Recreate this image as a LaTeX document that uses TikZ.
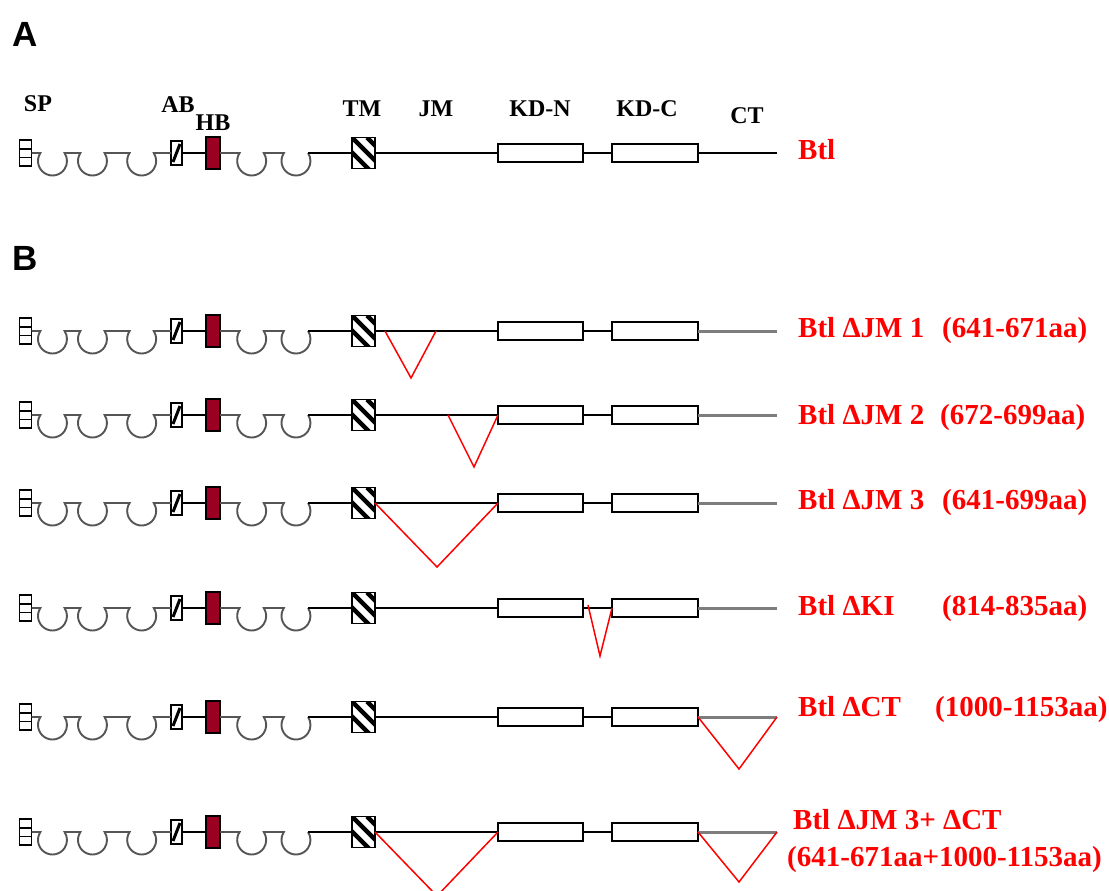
\documentclass[tikz,border=0pt]{standalone}
\usepackage{fontspec}
\setmainfont{Liberation Serif}
\newfontfamily\labsans{Liberation Sans}
\definecolor{hbred}{RGB}{155,0,35}
\definecolor{loopgray}{RGB}{85,85,85}
\definecolor{ctgray}{RGB}{125,125,125}
\tikzset{
  dom/.style={draw=black, line width=1.8pt, inner sep=0pt, outer sep=0pt, fill=white},
  spbox/.style={dom, minimum width=12pt, minimum height=26pt},
  abbox/.style={dom, minimum width=11pt, minimum height=24pt},
  hbbox/.style={dom, fill=hbred, minimum width=14pt, minimum height=32pt},
  tmbox/.style={dom, minimum width=23pt, minimum height=31pt},
  kdbox/.style={dom, minimum width=85pt, minimum height=18pt},
  bb/.style={line width=2pt, black},
  gl/.style={line width=1.9pt, loopgray},
  ctblack/.style={line width=2pt, black},
  ctgrey/.style={line width=3pt, ctgray},
  del/.style={red, line width=1.5pt, line join=miter},
  lab/.style={font=\fontsize{24}{28}\selectfont\bfseries, anchor=base, inner sep=0pt},
  rlab/.style={font=\fontsize{29}{34}\selectfont\bfseries, text=red, anchor=base west, inner sep=0pt},
  panel/.style={font=\labsans\fontsize{35}{40}\selectfont\bfseries, anchor=base west, inner sep=0pt},
}
\newcommand\protrow[3]{%
  \node[spbox] (#1sp) at (25.5,-#2) {};
  \draw[line width=1.6pt] ([yshift=4.3pt]#1sp.west) -- ([yshift=4.3pt]#1sp.east);
  \draw[line width=1.6pt] ([yshift=-4.3pt]#1sp.west) -- ([yshift=-4.3pt]#1sp.east);
  \node[abbox] (#1ab) at (176.5,-#2) {};
  \draw[line width=3pt] ([xshift=2pt,yshift=3pt]#1ab.south west) -- ([xshift=-2pt,yshift=-3pt]#1ab.north east);
  \node[hbbox] (#1hb) at (213,-#2) {};
  \node[tmbox] (#1tm) at (363.5,-#2) {};
  \begin{scope}
    \clip (#1tm.south west) rectangle (#1tm.north east);
    \foreach \o in {-15,0,15} \draw[line width=4.5pt] ([xshift=\o pt]#1tm.north west) -- ++(45,-45);
  \end{scope}
  \draw[line width=1.8pt] (#1tm.south west) rectangle (#1tm.north east);
  \node[kdbox] (#1kdn) at (540.5,-#2) {};
  \node[kdbox, minimum width=86pt] (#1kdc) at (655,-#2) {};
  \coordinate (#1end) at (777,-#2);
  % loops (Ig domains)
  \draw[gl] (#1sp.east) -- (40.4,-#2) arc[start angle=146.5, end angle=393.5, radius=14.5]
     -- (80.4,-#2) arc[start angle=146.5, end angle=393.5, radius=14.5]
     -- (129.6,-#2) arc[start angle=146.5, end angle=393.5, radius=14.5] -- (#1ab.west);
  \draw[gl] (#1hb.east) -- (239.6,-#2) arc[start angle=146.5, end angle=393.5, radius=14.5]
     -- (283.9,-#2) arc[start angle=146.5, end angle=393.5, radius=14.5] coordinate (#1l5);
  % connectors
  \draw[bb] (#1ab) -- (#1hb);
  \draw[bb] (#1l5) -- (#1tm);
  \draw[bb] (#1tm) -- (#1kdn);
  \draw[bb] (#1kdn) -- (#1kdc);
  \draw[#3] (#1kdc) -- (#1end);
}
\begin{document}
\begin{tikzpicture}[x=1pt,y=1pt]
\useasboundingbox (0,0) rectangle (1109,-891);
\fill[white] (0,0) rectangle (1109,-891);
% panel letters
\node[panel] (pA) at (12,-47) {A};
\node[panel] (pB) at (12,-270) {B};
% panel A
\protrow{a}{153}{ctblack}
\node[lab] (lsp) at (38,-111) {SP};
\node[lab] (lab) at (178,-112) {AB};
\node[lab] (lhb) at (213,-130) {HB};
\node[lab] (ltm) at (362,-117) {TM};
\node[lab] (ljm) at (436,-117) {JM};
\node[lab] (lkdn) at (540,-117) {KD-N};
\node[lab] (lkdc) at (647,-117) {KD-C};
\node[lab] (lct) at (747,-123) {CT};
\node[rlab] (tA) at (798,-159) {Btl};
% panel B rows
\protrow{b}{331}{ctgrey}
\protrow{c}{415}{ctgrey}
\protrow{d}{503}{ctgrey}
\protrow{e}{608}{ctgrey}
\protrow{f}{717}{ctgrey}
\protrow{g}{832}{ctgrey}
% deletions
\coordinate (b1) at (385,-331); \coordinate (b2) at (411,-378); \coordinate (b3) at (436,-331);
\draw[del] (b1) -- (b2) -- (b3);
\coordinate (c1) at (448,-415); \coordinate (c2) at (474,-467);
\draw[del] (c1) -- (c2) -- (ckdn.west);
\coordinate (d2) at (437,-567);
\draw[del] (dtm.east) -- (d2) -- (dkdn.west);
\coordinate (e1) at (588,-605); \coordinate (e2) at (600,-656);
\draw[del] (e1) -- (e2) -- (ekdc.west);
\coordinate (f2) at (739,-769);
\draw[del] (fkdc.east) -- (f2) -- (fend);
\coordinate (g2) at (437,-896);
\draw[del] (gtm.east) -- (g2) -- (gkdn.west);
\coordinate (g4) at (739,-882);
\draw[del] (gkdc.east) -- (g4) -- (gend);
% labels
\node[rlab] (tb1) at (798,-337) {Btl ΔJM 1};
\node[rlab] (tb2) at (942,-337) {(641-671aa)};
\node[rlab] (tc1) at (798,-424) {Btl ΔJM 2};
\node[rlab] (tc2) at (940,-424) {(672-699aa)};
\node[rlab] (td1) at (798,-509) {Btl ΔJM 3};
\node[rlab] (td2) at (942,-509) {(641-699aa)};
\node[rlab] (te1) at (798,-615) {Btl ΔKI};
\node[rlab] (te2) at (942,-615) {(814-835aa)};
\node[rlab] (tf1) at (798,-716) {Btl ΔCT};
\node[rlab] (tf2) at (935,-716) {(1000-1153aa)};
\node[rlab] (tg1) at (793,-829) {Btl ΔJM 3+ ΔCT};
\node[rlab] (tg2) at (787,-866) {(641-671aa+1000-1153aa)};
\end{tikzpicture}
\end{document}
